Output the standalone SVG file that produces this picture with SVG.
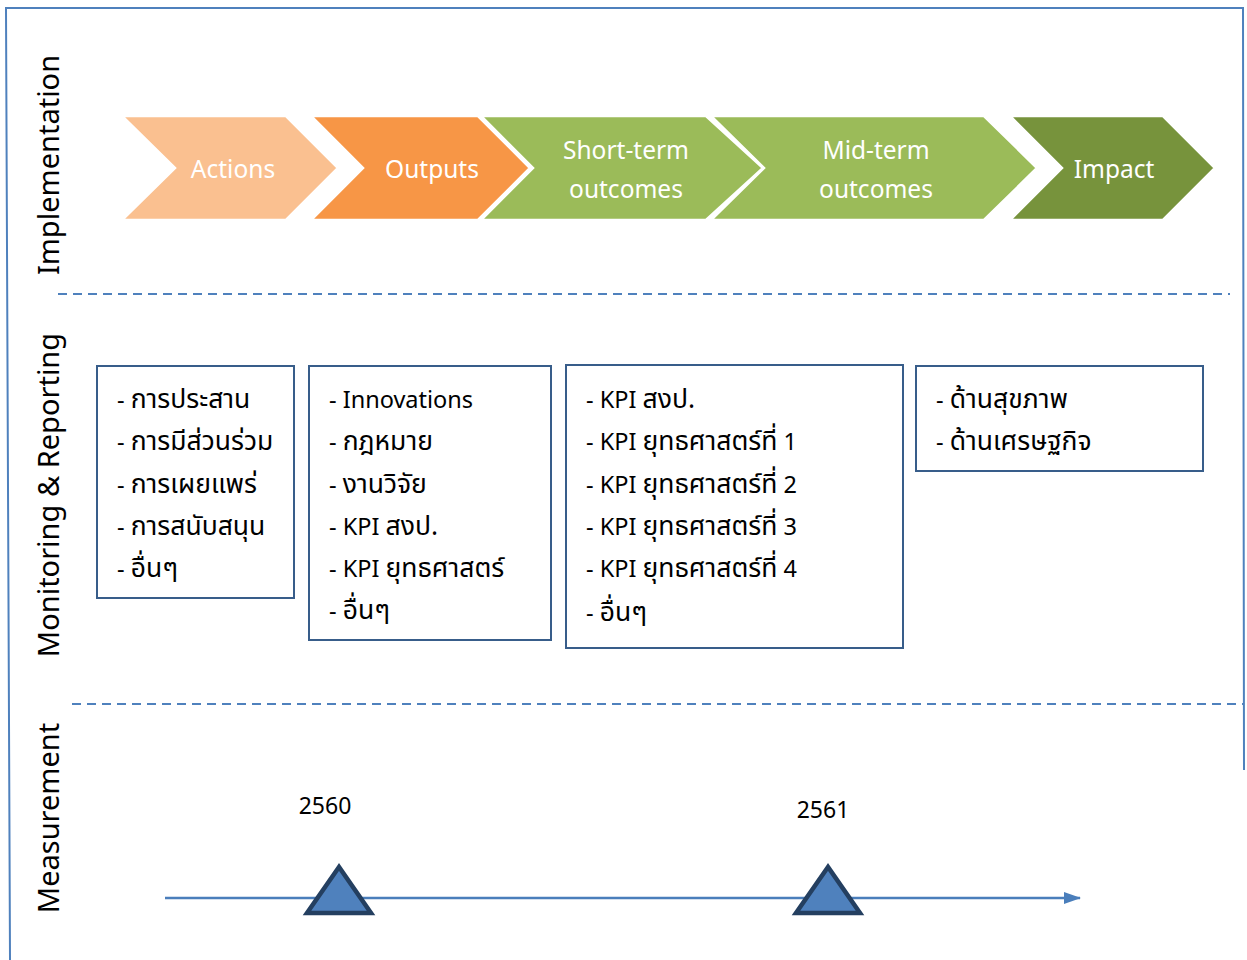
<svg xmlns="http://www.w3.org/2000/svg" width="1247" height="960" viewBox="0 0 1247 960">
<style>
.chev{stroke:#fff;stroke-width:2.5;stroke-linejoin:miter}
.ct{font-family:"Noto Sans","Open Sans",sans-serif;font-size:24.5px;fill:#fff;text-anchor:middle}
.side{font-family:"Noto Sans","Open Sans",sans-serif;font-size:29px;fill:#000;text-anchor:middle}
.box{fill:#fff;stroke:#385D8A;stroke-width:2}
.bt{font-family:"Noto Sans Thai","Noto Sans","Open Sans",sans-serif;font-size:23.5px;fill:#000}
.th{font-size:26.5px}
.dash{stroke:#4F81BD;stroke-width:2;stroke-dasharray:9 6;fill:none}
.tri{fill:#4F81BD;stroke:#243F60;stroke-width:4.5;stroke-linejoin:miter}
.yr{font-family:"Noto Sans","Open Sans",sans-serif;font-size:23px;fill:#000;text-anchor:middle}
</style>
<defs>
<marker id="arr" markerWidth="18" markerHeight="12" refX="16" refY="6" orient="auto" markerUnits="userSpaceOnUse">
<path d="M0,0 L17,6 L0,12 z" fill="#4A7EBB"/>
</marker>
</defs>
<rect width="1247" height="960" fill="#fff"/>
<g id="frame">
<polyline points="10,960 6,8 1243,8 1244,770" fill="none" stroke="#4F81BD" stroke-width="2"/>
</g>
<g id="side-labels">
<text class="side" transform="translate(59,165) rotate(-90)">Implementation</text>
<text class="side" transform="translate(59,495) rotate(-90)">Monitoring &amp; Reporting</text>
<text class="side" transform="translate(59,818) rotate(-90)">Measurement</text>
</g>
<g id="dividers">
<line class="dash" x1="58" y1="294" x2="1230" y2="294"/>
<line class="dash" x1="72" y1="704" x2="1243" y2="704"/>
</g>
<g id="impact">
<polygon class="chev" points="1010,116 1163,116 1215,168 1163,220 1010,220 1062,168" fill="#77933C"/>
<text class="ct" x="1114" y="178">Impact</text>
</g>
<g id="mid-term">
<polygon class="chev" points="711,116 984,116 1037,168 984,220 711,220 764,168" fill="#9BBB59"/>
<text class="ct" x="876" y="159">Mid-term</text>
<text class="ct" x="876" y="198">outcomes</text>
</g>
<g id="short-term">
<polygon class="chev" points="481,116 706,116 763,168 706,220 481,220 533,168" fill="#9BBB59"/>
<text class="ct" x="626" y="159">Short-term</text>
<text class="ct" x="626" y="198">outcomes</text>
</g>
<g id="outputs">
<polygon class="chev" points="311,116 478,116 530,168 478,220 311,220 363,168" fill="#F79646"/>
<text class="ct" x="432" y="178">Outputs</text>
</g>
<g id="actions">
<polygon class="chev" points="122,116 286,116 338,168 286,220 122,220 175,168" fill="#FAC090"/>
<text class="ct" x="233" y="178">Actions</text>
</g>
<g id="box-actions">
<rect class="box" x="97" y="366" width="197" height="232"/>
<text class="bt" x="117" y="408">- <tspan class="th">การประสาน</tspan></text>
<text class="bt" x="117" y="450">- <tspan class="th">การมีส่วนร่วม</tspan></text>
<text class="bt" x="117" y="493">- <tspan class="th">การเผยแพร่</tspan></text>
<text class="bt" x="117" y="535">- <tspan class="th">การสนับสนุน</tspan></text>
<text class="bt" x="117" y="577">- <tspan class="th">อื่นๆ</tspan></text>
</g>
<g id="box-outputs">
<rect class="box" x="309" y="366" width="242" height="274"/>
<text class="bt" x="329" y="408">- Innovations</text>
<text class="bt" x="329" y="450">- <tspan class="th">กฎหมาย</tspan></text>
<text class="bt" x="329" y="493">- <tspan class="th">งานวิจัย</tspan></text>
<text class="bt" x="329" y="535">- KPI <tspan class="th">สงป.</tspan></text>
<text class="bt" x="329" y="577">- KPI <tspan class="th">ยุทธศาสตร์</tspan></text>
<text class="bt" x="329" y="619">- <tspan class="th">อื่นๆ</tspan></text>
</g>
<g id="box-outcomes">
<rect class="box" x="566" y="365" width="337" height="283"/>
<text class="bt" x="586" y="408">- KPI <tspan class="th">สงป.</tspan></text>
<text class="bt" x="586" y="450">- KPI <tspan class="th">ยุทธศาสตร์ที่</tspan> 1</text>
<text class="bt" x="586" y="493">- KPI <tspan class="th">ยุทธศาสตร์ที่</tspan> 2</text>
<text class="bt" x="586" y="535">- KPI <tspan class="th">ยุทธศาสตร์ที่</tspan> 3</text>
<text class="bt" x="586" y="577">- KPI <tspan class="th">ยุทธศาสตร์ที่</tspan> 4</text>
<text class="bt" x="586" y="621">- <tspan class="th">อื่นๆ</tspan></text>
</g>
<g id="box-impact">
<rect class="box" x="916" y="366" width="287" height="105"/>
<text class="bt" x="936" y="408">- <tspan class="th">ด้านสุขภาพ</tspan></text>
<text class="bt" x="936" y="450">- <tspan class="th">ด้านเศรษฐกิจ</tspan></text>
</g>
<g id="connectors">
<line x1="165" y1="898" x2="1080" y2="898" stroke="#4A7EBB" stroke-width="2.5" marker-end="url(#arr)"/>
</g>
<g id="y2560">
<polygon class="tri" points="339,867 307,913 371,913"/>
<text class="yr" x="325" y="814">2560</text>
</g>
<g id="y2561">
<polygon class="tri" points="828,867 796,913 860,913"/>
<text class="yr" x="823" y="818">2561</text>
</g>
</svg>
